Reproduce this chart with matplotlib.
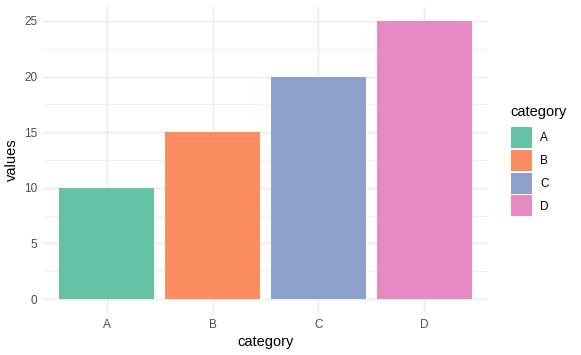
import matplotlib
matplotlib.use("Agg")
import matplotlib.pyplot as plt
from matplotlib.patches import Patch

categories = ["A", "B", "C", "D"]
values = [10, 15, 20, 25]
colors = ["#66C2A5", "#FC8D62", "#8DA0CB", "#E78AC3"]
yticks = [0, 5, 10, 15, 20, 25]

plt.rcParams['font.family'] = ['Liberation Sans', 'DejaVu Sans']

fig = plt.figure(figsize=(5.81, 3.55), dpi=100)
ax = fig.add_axes([43/581, 1-313/355, (488-43)/581, (313-7)/355])

x = list(range(1, len(categories)+1))
bars = ax.bar(x, values, width=0.9, color=colors, zorder=3)

ax.set_xlim(0.4, 4.6)
ax.set_ylim(-1.25, 26.25)
ax.set_xticks(x)
ax.set_xticklabels(categories)
ax.set_yticks(yticks)
ax.set_yticks([2.5, 7.5, 12.5, 17.5, 22.5], minor=True)
ax.grid(True, which='major', color='#EBEBEB', linewidth=1.0, zorder=0)
ax.grid(True, which='minor', axis='y', color='#EBEBEB', linewidth=0.5, zorder=0)
for s in ax.spines.values():
    s.set_visible(False)
ax.tick_params(which='both', length=0, labelsize=8.5, labelcolor='#4D4D4D', pad=4)
ax.set_xlabel("category", fontsize=10.5, labelpad=3)
ax.set_ylabel("values", fontsize=10.5, labelpad=4)

handles = [Patch(facecolor=c, edgecolor='none') for c in colors]
leg = fig.legend(handles, categories, title="category", loc='upper left',
                 bbox_to_anchor=(506/581, 1-100/355), frameon=False,
                 fontsize=8.5, title_fontsize=10.5,
                 handlelength=1.78, handleheight=2.36, labelspacing=0.15,
                 handletextpad=0.7, borderaxespad=0, borderpad=0.4)
leg._legend_box.align = "left"
leg._legend_box.sep = 6

fig.savefig("out.png", dpi=100)
